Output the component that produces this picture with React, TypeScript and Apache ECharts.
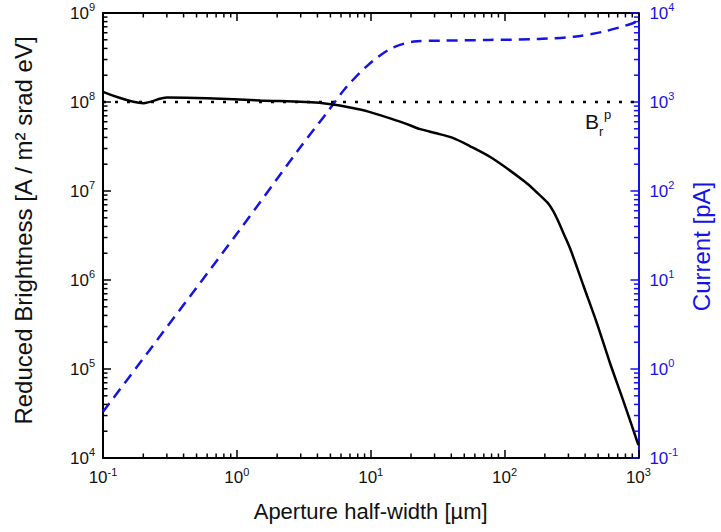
import React, { useEffect, useRef } from "react";
import * as echarts from "echarts";

// Brightness curve (left axis)
const apertureB = [0.1, 0.2, 0.3, 0.6, 1.5, 4.4, 8.5, 12.7, 17.8, 23.5, 31, 41, 55, 81, 142, 173, 211, 231, 250, 277, 312, 391, 490, 614, 767, 1000];
const brightness = [1.3e8, 9.7e7, 1.12e8, 1.1e8, 1.04e8, 9.7e7, 8.2e7, 6.85e7, 5.8e7, 4.95e7, 4.45e7, 3.95e7, 3.2e7, 2.33e7, 1.27e7, 9.75e6, 7.3e6, 5.96e6, 4.7e6, 3.29e6, 2.17e6, 8.4e5, 3.26e5, 1.16e5, 4.5e4, 1.4e4];

// Current curve (right axis)
const apertureI = [0.1, 1, 2.93, 4.87, 6.45, 9.55, 14.2, 21, 33, 76, 178, 330, 547, 908, 1000];
const current = [0.33, 33, 300, 810, 1420, 2600, 4000, 4770, 4880, 4980, 5100, 5420, 6170, 7660, 8300];

// Reference level Br^p
const refLevelX = [0.1, 1000];
const refLevelY = [1e8, 1e8];

// Axis ranges
const xRange = [0.1, 1000];
const yLeftRange = [1e4, 1e9];
const yRightRange = [0.1, 1e4];

// Minor tick helpers (log decades and multipliers)
const minorMult = [2, 3, 4, 5, 6, 7, 8, 9];
const xDecades = [0.1, 1, 10, 100];
const yLeftDecades = [1e4, 1e5, 1e6, 1e7, 1e8];
const yRightDecades = [0.1, 1, 10, 100, 1000];

const FONT = "'Liberation Sans', Arial, sans-serif";
const BLUE = "#1414e6";
const BLACK = "#000";

function expOf(v: number) {
  return Math.round(Math.log10(v));
}

function richLabel(color: string) {
  return {
    b: { fontSize: 17, fontFamily: FONT, color, lineHeight: 20 },
    s: { fontSize: 11, fontFamily: FONT, color, padding: [0, 0, 12, 0] },
  };
}

export default function App() {
  const ref = useRef<HTMLDivElement>(null);
  useEffect(() => {
    document.body.style.margin = "0";
    if (!ref.current) return;
    const chart = echarts.init(ref.current, undefined, { renderer: "svg" });

    const xMinor: number[][] = [];
    xDecades.forEach((d) => minorMult.forEach((m) => xMinor.push([d * m, yLeftRange[0]])));
    const yLMinor: number[][] = [];
    yLeftDecades.forEach((d) => minorMult.forEach((m) => yLMinor.push([xRange[0], d * m])));
    const yRMinor: number[][] = [];
    yRightDecades.forEach((d) => minorMult.forEach((m) => yRMinor.push([xRange[1], d * m])));

    const minorLen = 4.5;

    chart.setOption({
      animation: false,
      grid: { left: 103, right: 72, top: 13, bottom: 74 },
      xAxis: [
        {
          type: "log",
          min: xRange[0],
          max: xRange[1],
          position: "bottom",
          name: "Aperture half-width [µm]",
          nameLocation: "middle",
          nameGap: 42,
          nameTextStyle: { fontSize: 22, fontFamily: FONT, color: "#111" },
          axisLine: { show: true, lineStyle: { color: BLACK, width: 2 } },
          axisTick: { show: true, inside: true, length: 8, lineStyle: { color: BLACK, width: 1.5 } },
          splitLine: { show: false },
          axisLabel: {
            margin: 8,
            showMinLabel: true,
            showMaxLabel: true,
            formatter: (v: number) => `{b|10}{s|${expOf(v)}}`,
            rich: richLabel("#111"),
          },
        },
        {
          type: "log",
          min: xRange[0],
          max: xRange[1],
          position: "top",
          axisLine: { show: true, lineStyle: { color: BLACK, width: 2 } },
          axisTick: { show: true, inside: true, length: 8, lineStyle: { color: BLACK, width: 1.5 } },
          axisLabel: { show: false },
          splitLine: { show: false },
        },
      ],
      yAxis: [
        {
          type: "log",
          min: yLeftRange[0],
          max: yLeftRange[1],
          position: "left",
          name: "Reduced Brightness [A / m² srad eV]",
          nameLocation: "middle",
          nameRotate: 90,
          nameGap: 68,
          nameTextStyle: { fontSize: 24, fontFamily: FONT, color: "#111", padding: [0, 0, 0, 10] },
          axisLine: { show: true, lineStyle: { color: BLACK, width: 2 } },
          axisTick: { show: true, inside: true, length: 8, lineStyle: { color: BLACK, width: 1.5 } },
          splitLine: { show: false },
          axisLabel: {
            margin: 8,
            showMinLabel: true,
            showMaxLabel: true,
            formatter: (v: number) => `{b|10}{s|${expOf(v)}}`,
            rich: richLabel("#111"),
          },
        },
        {
          type: "log",
          min: yRightRange[0],
          max: yRightRange[1],
          position: "right",
          name: "Current [pA]",
          nameLocation: "middle",
          nameRotate: 90,
          nameGap: 50,
          nameTextStyle: { fontSize: 24, fontFamily: FONT, color: BLUE, padding: [0, 22, 0, 0] },
          axisLine: { show: true, lineStyle: { color: BLUE, width: 2 } },
          axisTick: { show: true, inside: true, length: 8, lineStyle: { color: BLUE, width: 1.5 } },
          splitLine: { show: false },
          axisLabel: {
            margin: 11,
            showMinLabel: true,
            showMaxLabel: true,
            formatter: (v: number) => `{b|10}{s|${expOf(v)}}`,
            rich: richLabel(BLUE),
          },
        },
      ],
      series: [
        {
          type: "line",
          name: "Brightness",
          xAxisIndex: 0,
          yAxisIndex: 0,
          data: apertureB.map((x, i) => [x, brightness[i]]),
          showSymbol: false,
          smooth: 0.3,
          lineStyle: { color: BLACK, width: 2.5 },
          z: 5,
        },
        {
          type: "line",
          name: "Current",
          xAxisIndex: 0,
          yAxisIndex: 1,
          data: apertureI.map((x, i) => [x, current[i]]),
          showSymbol: false,
          smooth: 0.3,
          lineStyle: { color: BLUE, width: 2.5, type: [11, 7] },
          z: 4,
        },
        {
          type: "line",
          name: "Brp",
          xAxisIndex: 0,
          yAxisIndex: 0,
          data: refLevelX.map((x, i) => [x, refLevelY[i]]),
          showSymbol: false,
          lineStyle: { color: BLACK, width: 2.5, type: [3, 9] },
          z: 3,
        },
        {
          type: "custom",
          xAxisIndex: 0,
          yAxisIndex: 0,
          silent: true,
          data: xMinor,
          encode: { x: 0, y: 1 },
          renderItem: (params: any, api: any) => {
            const v = api.value(0);
            const b = api.coord([v, yLeftRange[0]]);
            const t = api.coord([v, yLeftRange[1]]);
            return {
              type: "group",
              children: [
                { type: "line", shape: { x1: b[0], y1: b[1], x2: b[0], y2: b[1] - minorLen }, style: { stroke: BLACK, lineWidth: 1.5 } },
                { type: "line", shape: { x1: t[0], y1: t[1], x2: t[0], y2: t[1] + minorLen }, style: { stroke: BLACK, lineWidth: 1.5 } },
              ],
            };
          },
          z: 6,
        },
        {
          type: "custom",
          xAxisIndex: 0,
          yAxisIndex: 0,
          silent: true,
          data: yLMinor,
          encode: { x: 0, y: 1 },
          renderItem: (params: any, api: any) => {
            const p = api.coord([xRange[0], api.value(1)]);
            return { type: "line", shape: { x1: p[0], y1: p[1], x2: p[0] + minorLen, y2: p[1] }, style: { stroke: BLACK, lineWidth: 1.5 } };
          },
          z: 6,
        },
        {
          type: "custom",
          xAxisIndex: 0,
          yAxisIndex: 1,
          silent: true,
          data: yRMinor,
          encode: { x: 0, y: 1 },
          renderItem: (params: any, api: any) => {
            const p = api.coord([xRange[1], api.value(1)]);
            return { type: "line", shape: { x1: p[0], y1: p[1], x2: p[0] - minorLen, y2: p[1] }, style: { stroke: BLUE, lineWidth: 1.5 } };
          },
          z: 6,
        },
      ],
      graphic: [
        { type: "text", left: 585, top: 111, style: { text: "B", font: `21px ${FONT}`, fill: "#111" } },
        { type: "text", left: 599, top: 125, style: { text: "r", font: `13px ${FONT}`, fill: "#111" } },
        { type: "text", left: 604, top: 108, style: { text: "p", font: `13px ${FONT}`, fill: "#111" } },
      ],
    });
    return () => chart.dispose();
  }, []);
  return <div ref={ref} style={{ width: 721, height: 532 }} />;
}
